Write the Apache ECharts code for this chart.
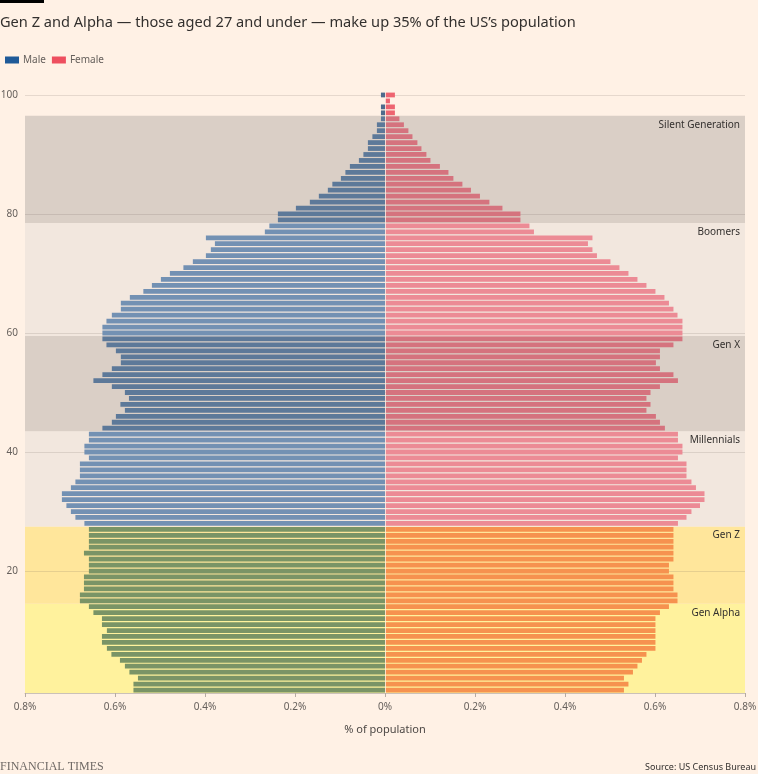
<!DOCTYPE html>
<html><head><meta charset="utf-8">
<script src="https://cdn.jsdelivr.net/npm/echarts@6/dist/echarts.min.js"></script>
<style>html,body{margin:0;padding:0;background:#fff1e5;}#c{width:758px;height:774px;}</style>
</head><body><div id="c"></div>
<script>
// Ages 0..100 (category axis, bottom to top)
const ages = [0,1,2,3,4,5,6,7,8,9,10,11,12,13,14,15,16,17,18,19,20,21,22,23,24,25,26,27,28,29,30,31,32,33,34,35,36,37,38,39,40,41,42,43,44,45,46,47,48,49,50,51,52,53,54,55,56,57,58,59,60,61,62,63,64,65,66,67,68,69,70,71,72,73,74,75,76,77,78,79,80,81,82,83,84,85,86,87,88,89,90,91,92,93,94,95,96,97,98,99,100];
// % of population, male, by age 0..100
const male = [0.559,0.559,0.549,0.568,0.578,0.589,0.608,0.618,0.629,0.629,
  0.618,0.629,0.629,0.648,0.658,0.678,0.678,0.669,0.669,0.669,
  0.658,0.658,0.658,0.669,0.658,0.658,0.658,0.658,0.668,0.688,
  0.698,0.708,0.718,0.718,0.698,0.688,0.678,0.678,0.678,0.658,
  0.668,0.668,0.658,0.658,0.628,0.607,0.598,0.578,0.588,0.569,
  0.578,0.607,0.648,0.628,0.607,0.587,0.587,0.598,0.619,0.628,
  0.628,0.628,0.619,0.607,0.587,0.587,0.567,0.537,0.518,0.498,
  0.478,0.448,0.427,0.398,0.387,0.378,0.398,0.267,0.257,0.238,
  0.238,0.198,0.167,0.147,0.127,0.117,0.098,0.088,0.078,0.058,
  0.048,0.038,0.038,0.028,0.018,0.018,0.009,0.009,0.009,0.0,0.009];
// % of population, female, by age 0..100
const female = [0.531,0.541,0.531,0.551,0.561,0.571,0.581,0.601,0.601,0.601,
  0.601,0.601,0.601,0.611,0.631,0.650,0.650,0.641,0.641,0.641,
  0.631,0.631,0.641,0.641,0.641,0.641,0.641,0.641,0.651,0.670,
  0.681,0.700,0.710,0.710,0.691,0.681,0.670,0.670,0.670,0.651,
  0.661,0.661,0.651,0.651,0.622,0.611,0.602,0.581,0.590,0.581,
  0.590,0.611,0.651,0.641,0.611,0.602,0.611,0.611,0.641,0.661,
  0.661,0.661,0.661,0.650,0.641,0.631,0.621,0.601,0.581,0.561,
  0.541,0.521,0.501,0.471,0.461,0.451,0.461,0.331,0.321,0.301,
  0.301,0.261,0.232,0.211,0.191,0.172,0.152,0.141,0.122,0.101,
  0.092,0.081,0.072,0.061,0.052,0.042,0.032,0.022,0.022,0.011,0.022];
// Generations (background bands)
const genNames = ['Gen Alpha','Gen Z','Millennials','Gen X','Boomers','Silent Generation'];
const genStart = [0,15,28,44,60,79];
const genEnd   = [14,27,43,59,78,96];
const genFill  = ['#fff29d','#ffe69b','#f2e7de','#dacfc6','#f2e7de','#dacfc6'];
const genMaleColor   = ['#7a9466','#7a9466','#7391b3','#5d7999','#7391b3','#5d7999'];
const genFemaleColor = ['#f6924f','#f6924f','#ec8b95','#d5737e','#ec8b95','#d5737e'];
const olderMaleColor = '#4f6b8c', olderFemaleColor = '#ee6470';
const gridAges = [20,40,60,80,100];

function genIndex(age){ for (let g=0; g<genNames.length; g++){ if (age>=genStart[g] && age<=genEnd[g]) return g; } return -1; }

const chart = echarts.init(document.getElementById('c'), null, {renderer:'canvas'});
const FONT = '"Noto Sans", sans-serif';

const maleData = ages.map((a,i)=>{ const g=genIndex(a); return {value: -male[i], itemStyle:{color: g<0?olderMaleColor:genMaleColor[g]}}; });
const femaleData = ages.map((a,i)=>{ const g=genIndex(a); return {value: female[i], itemStyle:{color: g<0?olderFemaleColor:genFemaleColor[g]}}; });

chart.setOption({
  backgroundColor:'#fff1e5',
  animation:false,
  textStyle:{fontFamily:FONT},
  title:{text:"Gen Z and Alpha \u2014 those aged 27 and under \u2014 make up 35% of the US\u2019s population",
    left:-5, top:10, textStyle:{fontSize:14.6, fontWeight:'normal', color:'#33302e', fontFamily:FONT}},
  legend:{data:['Male','Female'], left:0, top:50, icon:'rect', itemWidth:14, itemHeight:7, itemGap:6,
    textStyle:{fontSize:10, color:'#66605c', fontFamily:FONT, padding:[0,0,0,-1]}},
  grid:{left:25, right:13, top:92, bottom:81, outerBoundsMode:'none', containLabel:false},
  xAxis:{type:'value', min:-0.8, max:0.8, interval:0.2,
    axisLine:{show:true, lineStyle:{color:'#cbc1b8'}},
    axisTick:{show:true, length:4, lineStyle:{color:'#b5aba3'}},
    splitLine:{show:false},
    axisLabel:{color:'#66605c', fontSize:10, margin:9, fontFamily:FONT,
      formatter:v=>{ const a=Math.round(Math.abs(v)*10)/10; return a===0?'0%':a.toFixed(1)+'%'; }},
    name:'% of population', nameLocation:'middle', nameGap:31,
    nameTextStyle:{color:'#4d4845', fontSize:11, fontFamily:FONT}},
  yAxis:{type:'category', data:ages, boundaryGap:true,
    axisLine:{show:false}, axisTick:{show:false}, splitLine:{show:false},
    axisLabel:{color:'#66605c', fontSize:10, margin:7, fontFamily:FONT,
      interval:(idx)=> idx>0 && idx%20===0 }},
  graphic:[
    {type:'rect', left:0, top:0, shape:{width:44, height:3}, style:{fill:'#000'}},
    {type:'text', left:0, top:761, style:{text:'FINANCIAL TIMES', font:'12px "Liberation Serif", serif', fill:'#6f6965'}},
    {type:'text', right:2, top:763, style:{text:'Source: US Census Bureau', font:'9px '+FONT, fill:'#33302e'}}
  ],
  series:[
    {type:'custom', name:'bands', z:0, silent:true,
      data: genNames.map((n,i)=>[0, genStart[i]]),
      renderItem:(params, api)=>{
        const i = params.dataIndex;
        const h = api.size([0,1])[1];
        const yTop = api.coord([0, genEnd[i]])[1] - h/2;
        const yBot = api.coord([0, genStart[i]])[1] + h/2;
        const xL = api.coord([-0.8, 0])[0], xR = api.coord([0.8, 0])[0];
        return {type:'group', children:[
          {type:'rect', shape:{x:xL, y:yTop, width:xR-xL, height:yBot-yTop}, style:{fill:genFill[i]}},
          {type:'text', x:xR-5, y:yTop+9, style:{text:genNames[i], align:'right', verticalAlign:'middle', fill:'#33302e', font:'10px '+FONT}}
        ]};
      }},
    {type:'custom', name:'grid', z:1, silent:true,
      data: gridAges.map(a=>[0,a]),
      renderItem:(params, api)=>{
        const a = gridAges[params.dataIndex];
        const y = Math.round(api.coord([0,a])[1]) + 0.5;
        const xL = api.coord([-0.8, 0])[0], xR = api.coord([0.8, 0])[0];
        return {type:'line', shape:{x1:xL, y1:y, x2:xR, y2:y}, style:{stroke:'rgba(102,90,80,0.16)', lineWidth:1}};
      }},
    {type:'bar', name:'Male', z:2, barWidth:'80%', barGap:'-100%', itemStyle:{color:'#1f5a98'}, data:maleData},
    {type:'bar', name:'Female', z:2, barWidth:'80%', barGap:'-100%', itemStyle:{color:'#ee4f5f'}, data:femaleData},
    {type:'custom', name:'zero', z:3, silent:true, data:[[0,0]],
      renderItem:(params, api)=>{
        const h = api.size([0,1])[1];
        const x = Math.round(api.coord([0,0])[0]) + 0.5;
        const yTop = api.coord([0,100])[1] - h/2, yBot = api.coord([0,0])[1] + h/2;
        return {type:'line', shape:{x1:x, y1:yTop, x2:x, y2:yBot}, style:{stroke:'rgba(255,248,238,0.75)', lineWidth:1}};
      }}
  ]
});
</script></body></html>
